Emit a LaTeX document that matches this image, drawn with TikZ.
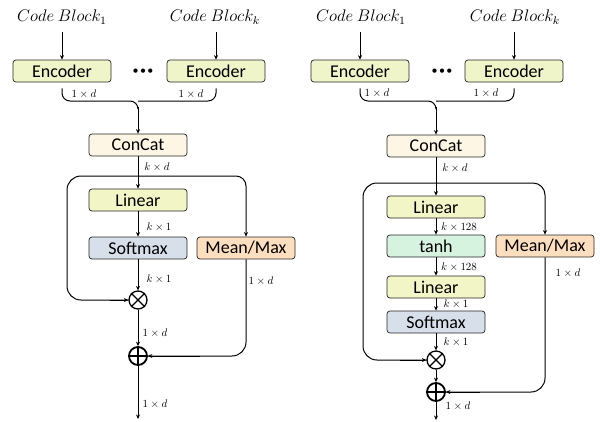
\documentclass[tikz,border=0pt]{standalone}
\usepackage{graphicx}
\usepackage{fontspec}
\setmainfont{Carlito}
\usetikzlibrary{arrows.meta}
\definecolor{encc}{HTML}{EFF5C8}
\definecolor{catc}{HTML}{FEF6E4}
\definecolor{linc}{HTML}{F2F6C6}
\definecolor{smc}{HTML}{D7E0EA}
\definecolor{mmc}{HTML}{FDDEBE}
\definecolor{thc}{HTML}{D6F3E0}
\newcommand{\cbtxt}[1]{\scalebox{1.4}{\fontsize{12}{12}\selectfont$#1$}}
\tikzset{
  box/.style={draw=black!85, rounded corners=3pt, line width=0.7pt, minimum width=98pt, minimum height=22pt, inner sep=0pt, font=\fontsize{18}{18}\selectfont},
  lab/.style={font=\fontsize{10.95}{11}\selectfont, inner sep=0pt},
  cb/.style={inner sep=0pt},
  ln/.style={line width=1pt, black},
  arr/.style={ln, -{Stealth[length=4.5pt,width=4pt]}},
  opc/.style={draw, circle, line width=1.3pt, minimum size=18pt, inner sep=0pt},
  dotsn/.style={font=\fontsize{12}{12}\selectfont, inner sep=0pt}
}
\begin{document}
\begin{tikzpicture}[x=1pt,y=-1pt]
\useasboundingbox (0,0) rectangle (600,421);
% ---------------- left diagram ----------------
\node[cb] (lcb1) at (62,17) {\cbtxt{Code\ Block_1}};
\node[cb] (lcbk) at (215,17) {\cbtxt{Code\ Block_k}};
\node[box, fill=encc] (le1) at (62,71) {Encoder};
\node[box, fill=encc] (lek) at (216,71) {Encoder};
\node[dotsn] (ld) at (143,72) {•\kern1.5pt•\kern1.5pt•};
\draw[arr] (le1.north |- 0,32) -- (le1.north);
\draw[arr] (lek.north |- 0,32) -- (lek.north);
\node[box, fill=catc] (lcc) at (138,145) {ConCat};
\coordinate (ljt) at (138,101);
\draw[ln, rounded corners=8pt] ([yshift=-6pt]le1.south) |- (ljt) -- ([yshift=-8pt]ljt);
\draw[ln, rounded corners=8pt] ([yshift=-6pt]lek.south) |- (ljt);
\draw[arr] ([yshift=-6pt]ljt) -- (lcc.north);
\node[lab] at (84,94) {$1\times d$};
\node[lab] at (191,94) {$1\times d$};
\node[box, fill=linc] (llin) at (138,200) {Linear};
\node[box, fill=smc] (lsm) at (138,248) {Softmax};
\node[box, fill=mmc] (lmm) at (246,248) {Mean/Max};
\node[opc] (lmul) at (138,300) {};
\draw[line width=1.3pt] (lmul.north west) -- (lmul.south east) (lmul.north east) -- (lmul.south west);
\node[opc, line width=1.8pt] (ladd) at (138,356) {};
\draw[line width=1.8pt] (ladd.north) -- (ladd.south) (ladd.west) -- (ladd.east);
\coordinate (lj) at (138,176);
\coordinate (lout) at (138,419);
\draw[arr] (lcc.south) -- (llin.north);
\draw[ln, rounded corners=14pt] (lj) -- (67,176) -- (67,300) -- (lmul.west);
\draw[arr] (110,300) -- (lmul.west);
\draw[arr, rounded corners=10pt] (lj) -| (lmm.north);
\draw[arr] (llin.south) -- (lsm.north);
\draw[arr] (lsm.south) -- (lmul.north);
\draw[arr] (lmul.south) -- (ladd.north);
\draw[ln, rounded corners=14pt] (lmm.south) |- (ladd.east);
\draw[arr] (200,356) -- (ladd.east);
\draw[arr] (ladd.south) -- (lout);
\node[lab] at (157,167) {$k\times d$};
\node[lab] at (159,227) {$k\times 1$};
\node[lab] at (159,279) {$k\times 1$};
\node[lab] at (261,281) {$1\times d$};
\node[lab] at (155,333) {$1\times d$};
\node[lab] at (155,404) {$1\times d$};
% ---------------- right diagram ----------------
\node[cb] (rcb1) at (361,17) {\cbtxt{Code\ Block_1}};
\node[cb] (rcbk) at (515,17) {\cbtxt{Code\ Block_k}};
\node[box, fill=encc] (re1) at (360,71) {Encoder};
\node[box, fill=encc] (rek) at (514,71) {Encoder};
\node[dotsn] (rd) at (442,72) {•\kern1.5pt•\kern1.5pt•};
\draw[arr] (re1.north |- 0,32) -- (re1.north);
\draw[arr] (rek.north |- 0,32) -- (rek.north);
\node[box, fill=catc] (rcc) at (436,146) {ConCat};
\coordinate (rjt) at (436,101);
\draw[ln, rounded corners=8pt] ([yshift=-6pt]re1.south) |- (rjt) -- ([yshift=-8pt]rjt);
\draw[ln, rounded corners=8pt] ([yshift=-6pt]rek.south) |- (rjt);
\draw[arr] ([yshift=-6pt]rjt) -- (rcc.north);
\node[lab] at (377,93) {$1\times d$};
\node[lab] at (486,93) {$1\times d$};
\node[box, fill=linc] (rlin1) at (436,207) {Linear};
\node[box, fill=thc] (rth) at (436,246) {tanh};
\node[box, fill=mmc] (rmm) at (545,246) {Mean/Max};
\node[box, fill=linc] (rlin2) at (436,287) {Linear};
\node[box, fill=smc] (rsm) at (436,322) {Softmax};
\node[opc] (rmul) at (436,360) {};
\draw[line width=1.3pt] (rmul.north west) -- (rmul.south east) (rmul.north east) -- (rmul.south west);
\node[opc, line width=1.8pt] (radd) at (436,392) {};
\draw[line width=1.8pt] (radd.north) -- (radd.south) (radd.west) -- (radd.east);
\coordinate (rj) at (436,183);
\coordinate (rout) at (436,420);
\draw[arr] (rcc.south) -- (rlin1.north);
\draw[ln, rounded corners=14pt] (rj) -- (363,183) -- (363,360) -- (rmul.west);
\draw[arr] (400,360) -- (rmul.west);
\draw[arr, rounded corners=12pt] (rj) -| (rmm.north);
\draw[arr] (rlin1.south) -- (rth.north);
\draw[arr] (rth.south) -- (rlin2.north);
\draw[arr] (rlin2.south) -- (rsm.north);
\draw[arr] (rsm.south) -- (rmul.north);
\draw[arr] (rmul.south) -- (radd.north);
\draw[ln, rounded corners=14pt] (rmm.south) |- (radd.east);
\draw[arr] (480,392) -- (radd.east);
\draw[arr] (radd.south) -- (rout);
\node[lab] at (455,168) {$k\times d$};
\node[lab] at (459,227) {$k\times 128$};
\node[lab] at (459,267) {$k\times 128$};
\node[lab] at (568,273) {$1\times d$};
\node[lab] at (456,304) {$k\times 1$};
\node[lab] at (456,342) {$k\times 1$};
\node[lab] at (458,406) {$1\times d$};
\end{tikzpicture}
\end{document}
